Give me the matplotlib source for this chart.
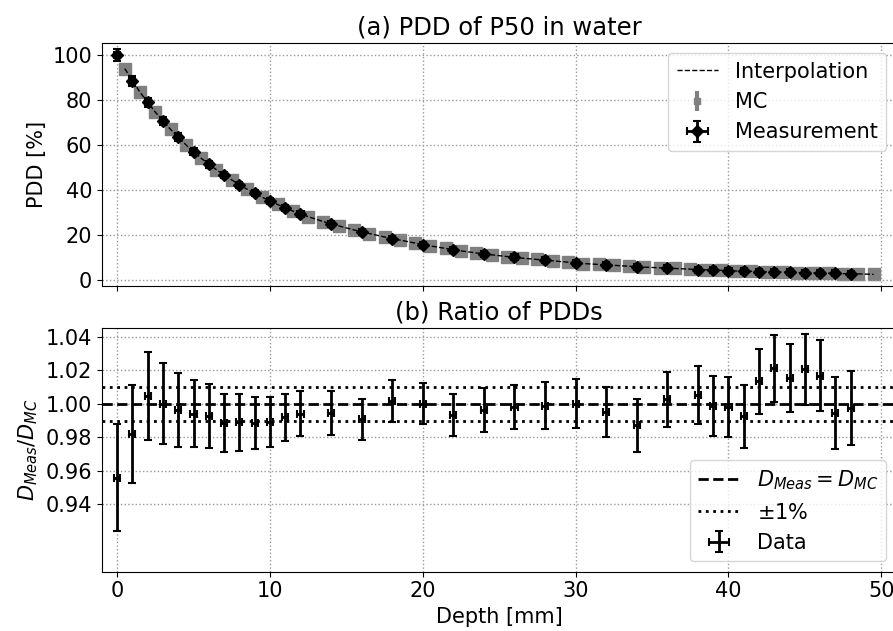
import numpy as np
import matplotlib
matplotlib.use("Agg")
import matplotlib.pyplot as plt
from matplotlib.lines import Line2D

plt.rcParams["font.size"] = 15

# ----------------- DATA -----------------
# measured depths [mm]
meas_depth = [0, 1, 2, 3, 4, 5, 6, 7, 8, 9, 10, 11, 12, 14, 16, 18, 20, 22, 24,
              26, 28, 30, 32, 34, 36, 38, 39, 40, 41, 42, 43, 44, 45, 46, 47, 48]
meas_pdd = [100.0, 88.5, 79.0, 70.8, 63.5, 57.1, 51.5, 46.8, 42.5, 38.7, 35.2,
            32.2, 29.5, 25.1, 21.6, 18.5, 15.9, 13.6, 11.8, 10.2, 9.0, 7.8, 6.9,
            6.0, 5.4, 4.8, 4.6, 4.4, 4.1, 3.9, 3.8, 3.6, 3.4, 3.3, 3.1, 3.0]
meas_pdd_err = [2.5, 2.3, 2.1, 1.9, 1.8, 1.6, 1.5, 1.4, 1.3, 1.2, 1.2, 1.1, 1.1,
                1.0, 1.0, 0.9, 0.9, 0.9, 0.9, 0.9, 0.9, 0.9, 0.9, 0.9, 0.9, 0.9,
                0.9, 0.9, 0.9, 0.9, 0.9, 0.9, 0.9, 0.9, 0.9, 0.9]
depth_err = 0.2

# Monte Carlo (bin centres)
mc_depth = [0.5, 1.5, 2.5, 3.5, 4.5, 5.5, 6.5, 7.5, 8.5, 9.5, 10.5, 11.5, 12.5,
            13.5, 14.5, 15.5, 16.5, 17.5, 18.5, 19.5, 20.5, 21.5, 22.5, 23.5,
            24.5, 25.5, 26.5, 27.5, 28.5, 29.5, 30.5, 31.5, 32.5, 33.5, 34.5,
            35.5, 36.5, 37.5, 38.5, 39.5, 40.5, 41.5, 42.5, 43.5, 44.5, 45.5,
            46.5, 47.5, 48.5, 49.5]
mc_pdd = [94.0, 83.5, 74.7, 67.0, 60.2, 54.2, 49.1, 44.6, 40.5, 36.9, 33.7,
          30.8, 28.3, 26.1, 24.2, 22.4, 20.8, 19.3, 17.9, 16.6, 15.3, 14.2,
          13.1, 12.2, 11.4, 10.6, 9.9, 9.3, 8.7, 8.1, 7.5, 7.1, 6.7, 6.3, 5.9,
          5.6, 5.3, 5.0, 4.7, 4.5, 4.2, 4.0, 3.8, 3.7, 3.5, 3.3, 3.2, 3.0, 2.9,
          2.7]

# ratio of measurement to MC
ratio = [0.956, 0.982, 1.0046, 1.000, 0.996, 0.994, 0.9926, 0.9885, 0.989,
         0.9887, 0.989, 0.992, 0.994, 0.9944, 0.9906, 1.0016, 1.000, 0.993,
         0.9964, 0.998, 0.9988, 1.000, 0.9952, 0.9872, 1.0026, 1.0054, 0.9988,
         0.998, 0.9924, 1.0134, 1.0212, 1.0152, 1.0204, 1.0166, 0.9946, 0.9976]
ratio_err = [0.032, 0.029, 0.026, 0.024, 0.022, 0.020, 0.019, 0.0175, 0.017,
             0.0155, 0.015, 0.014, 0.0135, 0.013, 0.0125, 0.0125, 0.0122,
             0.0125, 0.013, 0.013, 0.014, 0.0146, 0.015, 0.0157, 0.0165,
             0.0173, 0.0178, 0.018, 0.0187, 0.0193, 0.020, 0.0204, 0.021,
             0.0212, 0.0215, 0.022]

# ----------------- FIGURE -----------------
fig = plt.figure(figsize=(8.93, 6.31), dpi=100)
ax1 = fig.add_axes([0.114, 0.547, 0.890, 0.385])
ax2 = fig.add_axes([0.114, 0.094, 0.890, 0.386], sharex=ax1)

# ---- (a) PDD ----
ax1.plot(mc_depth, mc_pdd, "--", color="k", lw=1, zorder=2)
ax1.errorbar(mc_depth, mc_pdd, yerr=0.3, fmt="s", color="grey", ms=9,
             elinewidth=3, zorder=1)
meas = ax1.errorbar(meas_depth, meas_pdd, xerr=depth_err, yerr=meas_pdd_err,
                    fmt="D", color="k", ms=6, elinewidth=2, capsize=3,
                    capthick=1.5, zorder=3)
interp_h = Line2D([], [], ls="--", color="k", lw=1)
mc_h = (Line2D([], [], ls="", marker="|", ms=14, mew=3, color="grey"),
        Line2D([], [], ls="", marker="s", ms=4, color="grey"))
ax1.legend([interp_h, mc_h, meas], ["Interpolation", "MC", "Measurement"],
           loc="upper right")
ax1.set_ylim(-2.4, 105.4)
ax1.set_yticks([0, 20, 40, 60, 80, 100])
ax1.set_ylabel("PDD [%]")
ax1.set_title("(a) PDD of P50 in water", fontsize=17.5)
ax1.grid(ls=":", color="0.6", lw=1)
ax1.tick_params(labelbottom=False)

# ---- (b) ratio ----
ax2.axhline(1.0, ls="--", color="k", lw=2, label=r"$D_{Meas} = D_{MC}$")
ax2.axhline(1.01, ls=":", color="k", lw=2, label=r"$\pm1\%$")
ax2.axhline(0.99, ls=":", color="k", lw=2)
ax2.errorbar(meas_depth, ratio, xerr=depth_err, yerr=ratio_err, fmt=".",
             color="k", ms=4, elinewidth=2, capsize=3, capthick=1.5,
             label="Data")
ax2.legend(loc="lower right")
ax2.set_ylim(0.90, 1.045)
ax2.set_yticks([0.94, 0.96, 0.98, 1.00, 1.02, 1.04])
ax2.set_ylabel(r"$D_{Meas}/D_{MC}$")
ax2.set_xlabel("Depth [mm]")
ax2.set_title("(b) Ratio of PDDs", fontsize=17.5)
ax2.set_xlim(-1, 51)
ax2.set_xticks([0, 10, 20, 30, 40, 50])
ax2.grid(ls=":", color="0.6", lw=1)

fig.savefig("out.png", dpi=100)
